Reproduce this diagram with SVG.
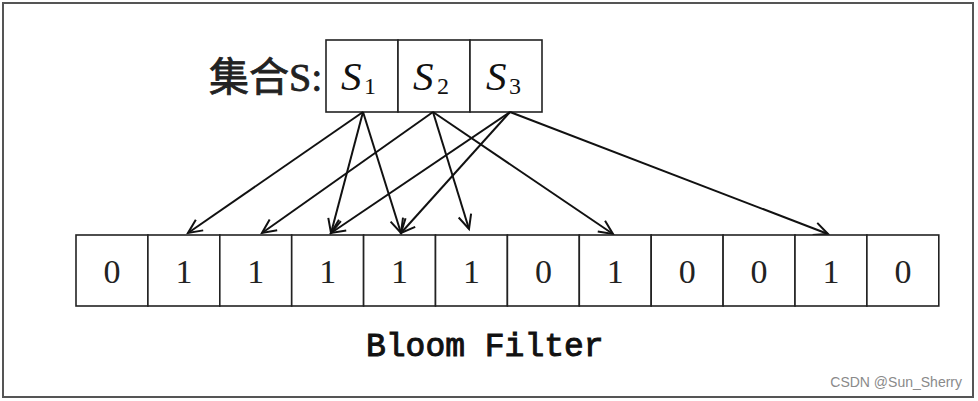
<svg xmlns="http://www.w3.org/2000/svg" width="978" height="401" viewBox="0 0 978 401">
<defs>
<style>
.cell{fill:#fff;stroke:#222;stroke-width:1.6}
.bit{font-family:"Liberation Serif",serif;font-size:34px;fill:#222;text-anchor:middle}
.s{font-family:"Liberation Serif",serif;font-style:italic;font-size:41px;fill:#111}
.sub{font-family:"Liberation Serif",serif;font-size:24px;fill:#111}
.arr{stroke:#111;stroke-width:2;fill:none;marker-end:url(#ah)}
</style>
<marker id="ah" markerUnits="userSpaceOnUse" markerWidth="18" markerHeight="16" refX="15" refY="8" orient="auto">
<path d="M1,1.5 L15,8 L1,14.5" fill="none" stroke="#111" stroke-width="2"/>
</marker>
</defs>
<rect x="0" y="0" width="978" height="401" fill="#fff"/>
<rect x="3" y="3" width="970" height="394" fill="none" stroke="#555" stroke-width="2"/>
<text x="209" y="91" font-family="'Liberation Serif','Noto Sans CJK SC',serif" font-size="40" fill="#222" stroke="#222" stroke-width="0.8">集合S:</text>
<g id="set">
<g id="s1"><rect class="cell" x="326" y="40" width="72" height="72"/><text class="s" x="341" y="90">S</text><text class="sub" x="364" y="94">1</text></g>
<g id="s2"><rect class="cell" x="398" y="40" width="72" height="72"/><text class="s" x="413" y="90">S</text><text class="sub" x="437" y="94">2</text></g>
<g id="s3"><rect class="cell" x="470" y="40" width="72" height="72"/><text class="s" x="486" y="90">S</text><text class="sub" x="509" y="94">3</text></g>
</g>
<g id="connectors">
<line class="arr" x1="363" y1="112" x2="188" y2="233"/>
<line class="arr" x1="363" y1="112" x2="331" y2="233"/>
<line class="arr" x1="363" y1="112" x2="401" y2="233"/>
<line class="arr" x1="433" y1="112" x2="262" y2="233"/>
<line class="arr" x1="433" y1="112" x2="469" y2="229"/>
<line class="arr" x1="433" y1="112" x2="613" y2="234"/>
<line class="arr" x1="510" y1="112" x2="331" y2="233"/>
<line class="arr" x1="510" y1="112" x2="401" y2="233"/>
<line class="arr" x1="510" y1="112" x2="828" y2="234"/>
</g>
<g id="bloom">
<g id="b0"><rect class="cell" x="76" y="235" width="71.9" height="71"/><text class="bit" x="112" y="283">0</text></g>
<g id="b1"><rect class="cell" x="147.9" y="235" width="71.9" height="71"/><text class="bit" x="183.9" y="283">1</text></g>
<g id="b2"><rect class="cell" x="219.8" y="235" width="71.9" height="71"/><text class="bit" x="255.8" y="283">1</text></g>
<g id="b3"><rect class="cell" x="291.7" y="235" width="71.9" height="71"/><text class="bit" x="327.7" y="283">1</text></g>
<g id="b4"><rect class="cell" x="363.6" y="235" width="71.9" height="71"/><text class="bit" x="399.6" y="283">1</text></g>
<g id="b5"><rect class="cell" x="435.5" y="235" width="71.9" height="71"/><text class="bit" x="471.5" y="283">1</text></g>
<g id="b6"><rect class="cell" x="507.4" y="235" width="71.9" height="71"/><text class="bit" x="543.4" y="283">0</text></g>
<g id="b7"><rect class="cell" x="579.3" y="235" width="71.9" height="71"/><text class="bit" x="615.3" y="283">1</text></g>
<g id="b8"><rect class="cell" x="651.2" y="235" width="71.9" height="71"/><text class="bit" x="687.2" y="283">0</text></g>
<g id="b9"><rect class="cell" x="723.1" y="235" width="71.9" height="71"/><text class="bit" x="759.1" y="283">0</text></g>
<g id="b10"><rect class="cell" x="795" y="235" width="71.9" height="71"/><text class="bit" x="831" y="283">1</text></g>
<g id="b11"><rect class="cell" x="866.9" y="235" width="71.9" height="71"/><text class="bit" x="902.9" y="283">0</text></g>
</g>
<text x="366" y="356" font-family="'Liberation Mono',monospace" font-size="33" fill="#111" stroke="#111" stroke-width="1">Bloom Filter</text>
<text x="962" y="387" text-anchor="end" font-family="'Liberation Sans',Arial,sans-serif" font-size="14" fill="#8a8a8a">CSDN @Sun_Sherry</text>
</svg>
